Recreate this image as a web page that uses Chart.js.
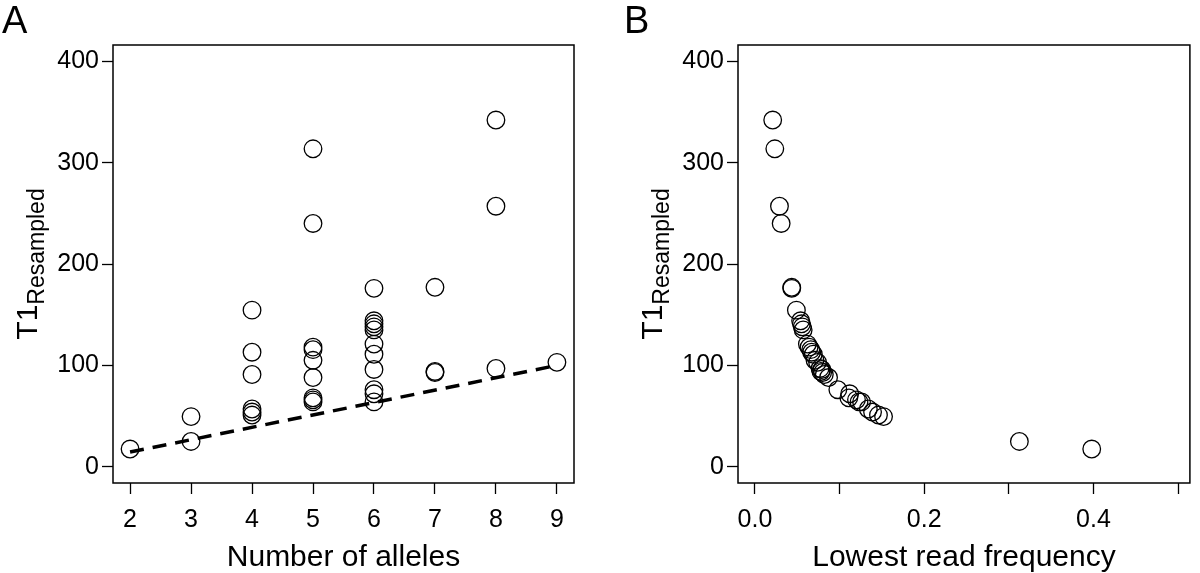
<!DOCTYPE html>
<html>
<head>
<meta charset="utf-8">
<script src="https://cdn.jsdelivr.net/npm/chart.js@4.4.1/dist/chart.umd.min.js"></script>
<style>
	body { margin: 0; background: #fff; }
	#wrap { position: relative; width: 1200px; height: 573px; }
	canvas { position: absolute; top: 0; }
</style>
</head>
<body>
<div id="wrap">
	<canvas id="panelA" width="600" height="573" style="left:0"></canvas>
	<canvas id="panelB" width="600" height="573" style="left:600px"></canvas>
</div>
<script>
//panel A: number of alleles vs T1
const alleles = [2, 3, 3, 4, 4, 4, 4, 4, 4,
	5, 5, 5, 5, 5, 5, 5, 5, 5,
	6, 6, 6, 6, 6, 6, 6, 6, 6, 6, 6,
	7, 7, 7, 8, 8, 8, 9];
const t1Alleles = [17.5, 49.5, 25, 154.5, 113, 91, 57, 54, 51,
	313.6, 240, 118, 115.5, 105, 88, 68, 66, 64,
	176, 144, 141, 138, 135, 121, 111, 96, 76, 72, 64,
	177, 94, 93, 342, 257, 97, 103];
const trendX = [2, 9];
const trendY = [14.5, 100];

//panel B: lowest read frequency vs T1
const lowestFreq = [0.021, 0.0235, 0.029, 0.031, 0.0435, 0.0435, 0.049,
	0.054, 0.055, 0.056, 0.057, 0.062, 0.064, 0.066, 0.067, 0.069,
	0.071, 0.074, 0.077, 0.079, 0.078, 0.080, 0.082, 0.087, 0.098,
	0.112, 0.111, 0.120, 0.126, 0.123, 0.134, 0.139, 0.146, 0.152,
	0.3125, 0.398];
const t1Freq = [342, 313.6, 257, 240, 177, 176, 154.5,
	144, 141, 138, 135, 121, 118, 115.5, 113, 111,
	105, 103, 97, 96, 94, 93, 91, 88, 76,
	72, 68, 66, 64, 64, 57, 54, 51, 49.5,
	25, 17.5];

const allelesTicks = [2, 3, 4, 5, 6, 7, 8, 9];
const freqTicks = [0, 0.1, 0.2, 0.3, 0.4, 0.5];
const freqLabels = ['0.0', '', '0.2', '', '0.4', ''];
const t1Ticks = [0, 100, 200, 300, 400];

const FONT = '"Liberation Sans", Arial, Helvetica, sans-serif';
Chart.defaults.font.family = FONT;
Chart.defaults.color = '#000';

//box round the plot, panel letter and the rotated T1 title with subscript
const framePlugin = {
	id: 'frame',
	afterDraw(chart, args, opts) {
		const {ctx, chartArea: a} = chart;
		ctx.save();
		ctx.strokeStyle = '#000';
		ctx.lineWidth = 1.5;
		ctx.strokeRect(a.left, a.top, a.right - a.left, a.bottom - a.top);

		ctx.fillStyle = '#000';
		ctx.textBaseline = 'alphabetic';
		ctx.font = `38px ${FONT}`;
		ctx.fillText(opts.letter, opts.letterX, 33);

		ctx.translate(opts.titleX, (a.top + a.bottom) / 2);
		ctx.rotate(-Math.PI / 2);
		ctx.font = `30px ${FONT}`;
		let w1 = ctx.measureText('T1').width;
		ctx.font = `23px ${FONT}`;
		let w2 = ctx.measureText('Resampled').width;
		let x0 = -(w1 + w2) / 2;
		ctx.font = `30px ${FONT}`;
		ctx.fillText('T1', x0, 0);
		ctx.font = `23px ${FONT}`;
		ctx.fillText('Resampled', x0 + w1, 7);
		ctx.restore();
	}
};

const tickGrid = {drawOnChartArea: false, tickLength: 11, tickColor: '#000', tickWidth: 1.3};

const yScale = (width) => ({
	min: -16, max: 416,
	afterBuildTicks: s => { s.ticks = t1Ticks.map(v => ({value: v})); },
	afterFit: s => { s.width = width; },
	grid: tickGrid,
	border: {display: false},
	ticks: {font: {size: 25}, padding: 3, callback: v => String(v)}
});

const circles = (xs, ys) => ({
	type: 'scatter',
	data: xs.map((x, i) => ({x: x, y: ys[i]})),
	pointStyle: 'circle',
	pointRadius: 8.8,
	pointHoverRadius: 8.8,
	pointBorderWidth: 1.3,
	borderColor: '#000',
	backgroundColor: 'rgba(0,0,0,0)',
	pointBackgroundColor: 'rgba(0,0,0,0)',
	showLine: false
});

new Chart(document.querySelector('#panelA'), {
	type: 'scatter',
	data: {
		datasets: [
			{
				type: 'line',
				data: trendX.map((x, i) => ({x: x, y: trendY[i]})),
				borderColor: '#000',
				borderWidth: 3.5,
				borderDash: [14, 9],
				pointRadius: 0,
				fill: false
			},
			circles(alleles, t1Alleles)
		]
	},
	options: {
		responsive: false,
		animation: false,
		layout: {padding: {left: 0, top: 45, right: 26, bottom: 0}},
		plugins: {legend: {display: false}, tooltip: {enabled: false},
			frame: {letter: 'A', letterX: 2, titleX: 37}},
		scales: {
			x: {
				type: 'linear', min: 1.72, max: 9.28,
				afterBuildTicks: s => { s.ticks = allelesTicks.map(v => ({value: v})); },
				afterFit: s => { s.height = 90; },
				grid: tickGrid,
				border: {display: false},
				ticks: {font: {size: 25}, padding: 11, maxRotation: 0, autoSkip: false, callback: v => String(v)},
				title: {display: true, text: 'Number of alleles', font: {size: 30, lineHeight: 1}, padding: {top: 0, bottom: 0}}
			},
			y: yScale(113)
		}
	},
	plugins: [framePlugin]
});

new Chart(document.querySelector('#panelB'), {
	type: 'scatter',
	data: {
		datasets: [circles(lowestFreq, t1Freq)]
	},
	options: {
		responsive: false,
		animation: false,
		layout: {padding: {left: 0, top: 45, right: 6, bottom: 0}},
		plugins: {legend: {display: false}, tooltip: {enabled: false},
			frame: {letter: 'B', letterX: 24, titleX: 62}},
		scales: {
			x: {
				type: 'linear', min: -0.02, max: 0.514,
				afterBuildTicks: s => { s.ticks = freqTicks.map(v => ({value: v})); },
				afterFit: s => { s.height = 90; },
				grid: tickGrid,
				border: {display: false},
				ticks: {font: {size: 25}, padding: 11, maxRotation: 0, autoSkip: false,
					callback: (v, i) => freqLabels[i]},
				title: {display: true, text: 'Lowest read frequency', font: {size: 30, lineHeight: 1}, padding: {top: 0, bottom: 0}}
			},
			y: yScale(138)
		}
	},
	plugins: [framePlugin]
});
</script>
</body>
</html>
